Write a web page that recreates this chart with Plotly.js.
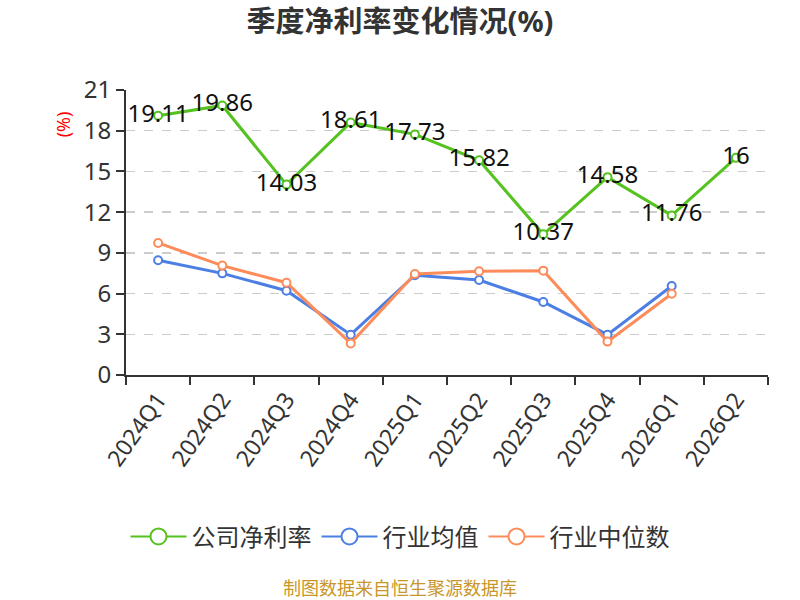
<!DOCTYPE html>
<html>
<head>
<meta charset="utf-8">
<script src="https://cdn.plot.ly/plotly-3.0.1.min.js"></script>
<style>
  html, body { margin: 0; padding: 0; background: #fff; }
  #chart { width: 800px; height: 600px; }
</style>
</head>
<body>
<div id="chart"></div>
<script>
var quarters = ['2024Q1', '2024Q2', '2024Q3', '2024Q4', '2025Q1', '2025Q2', '2025Q3', '2025Q4', '2026Q1', '2026Q2'];
var companyRate = [19.11, 19.86, 14.03, 18.61, 17.73, 15.82, 10.37, 14.58, 11.76, 16];
var industryMean = [8.45, 7.49, 6.21, 2.97, 7.35, 7.0, 5.38, 2.97, 6.56, null];
var industryMedian = [9.73, 8.06, 6.80, 2.33, 7.44, 7.64, 7.69, 2.46, 5.99, null];
var seriesNames = ['公司净利率', '行业均值', '行业中位数'];
var seriesColors = ['#55c21f', '#4c7fe3', '#fd8c5a'];
var yTicks = [0, 3, 6, 9, 12, 15, 18, 21];

var font = '"Noto Sans", "Noto Sans CJK SC", sans-serif';
// plot area centre is not the page centre, so centred texts use this paper x
var midX = (400 - 126) / 642;

function lineTrace(name, values, color, withLabels) {
  var t = {
    x: quarters,
    y: values,
    name: name,
    type: 'scatter',
    mode: withLabels ? 'lines+markers+text' : 'lines+markers',
    line: { color: color, width: 3 },
    marker: { symbol: 'circle', size: 8, color: '#ffffff', line: { color: color, width: 2 } },
    showlegend: false,
    hoverinfo: 'x+y'
  };
  if (withLabels) {
    t.text = values.map(function(v) { return String(v); });
    t.textposition = 'middle center';
    t.textfont = { family: font, size: 24, color: '#111111' };
  }
  return t;
}

// legend only entries, bigger symbol like the original
function legendTrace(name, color) {
  return {
    x: [quarters[0]],
    y: [null],
    name: name,
    type: 'scatter',
    mode: 'lines+markers',
    line: { color: color, width: 2 },
    marker: { symbol: 'circle', size: 16, color: '#ffffff', line: { color: color, width: 2 } },
    hoverinfo: 'skip'
  };
}

var data = [
  lineTrace(seriesNames[0], companyRate, seriesColors[0], true),
  lineTrace(seriesNames[1], industryMean, seriesColors[1], false),
  lineTrace(seriesNames[2], industryMedian, seriesColors[2], false)
];
for (var i = 0; i < seriesNames.length; i++) {
  data.push(legendTrace(seriesNames[i], seriesColors[i]));
}

var layout = {
  width: 800,
  height: 600,
  margin: { l: 126, r: 32, t: 90, b: 225 },
  paper_bgcolor: '#ffffff',
  plot_bgcolor: '#ffffff',
  font: { family: font, color: '#333333' },
  title: {
    text: '<b>季度净利率变化情况(%)</b>',
    font: { family: font, size: 29, color: '#333333' },
    x: 0.5, xanchor: 'center',
    y: 0.963, yanchor: 'middle'
  },
  xaxis: {
    type: 'category',
    range: [-0.5, 9.5],
    tickson: 'boundaries',
    ticks: 'outside',
    ticklen: 8,
    tickwidth: 2,
    tickcolor: '#333333',
    showline: true,
    linecolor: '#333333',
    linewidth: 2,
    showgrid: false,
    tickangle: -55,
    tickfont: { family: font, size: 23, color: '#333333' },
    fixedrange: true
  },
  yaxis: {
    range: [0, 21],
    tickvals: yTicks,
    ticktext: yTicks.map(String),
    ticks: 'outside',
    ticklen: 8,
    tickwidth: 2,
    tickcolor: '#333333',
    showline: true,
    linecolor: '#333333',
    linewidth: 2,
    showgrid: true,
    gridcolor: '#cccccc',
    griddash: 'dash',
    gridwidth: 1.5,
    zeroline: false,
    tickfont: { family: font, size: 24, color: '#333333' },
    fixedrange: true
  },
  legend: {
    orientation: 'h',
    x: midX, xanchor: 'center',
    y: -0.568, yanchor: 'middle',
    font: { family: font, size: 24, color: '#333333' },
    itemwidth: 56,
    traceorder: 'normal'
  },
  annotations: [
    {
      text: '(%)',
      xref: 'paper', yref: 'paper',
      x: -0.098, y: 0.88,
      xanchor: 'center', yanchor: 'middle',
      textangle: -90,
      showarrow: false,
      font: { family: font, size: 18, color: '#ff0000' }
    },
    {
      text: '制图数据来自恒生聚源数据库',
      xref: 'paper', yref: 'paper',
      x: midX, y: -0.748,
      xanchor: 'center', yanchor: 'middle',
      showarrow: false,
      font: { family: font, size: 18, color: '#c8962a' }
    }
  ],
  showlegend: true
};

Plotly.newPlot('chart', data, layout, { displayModeBar: false, staticPlot: true });
</script>
</body>
</html>
